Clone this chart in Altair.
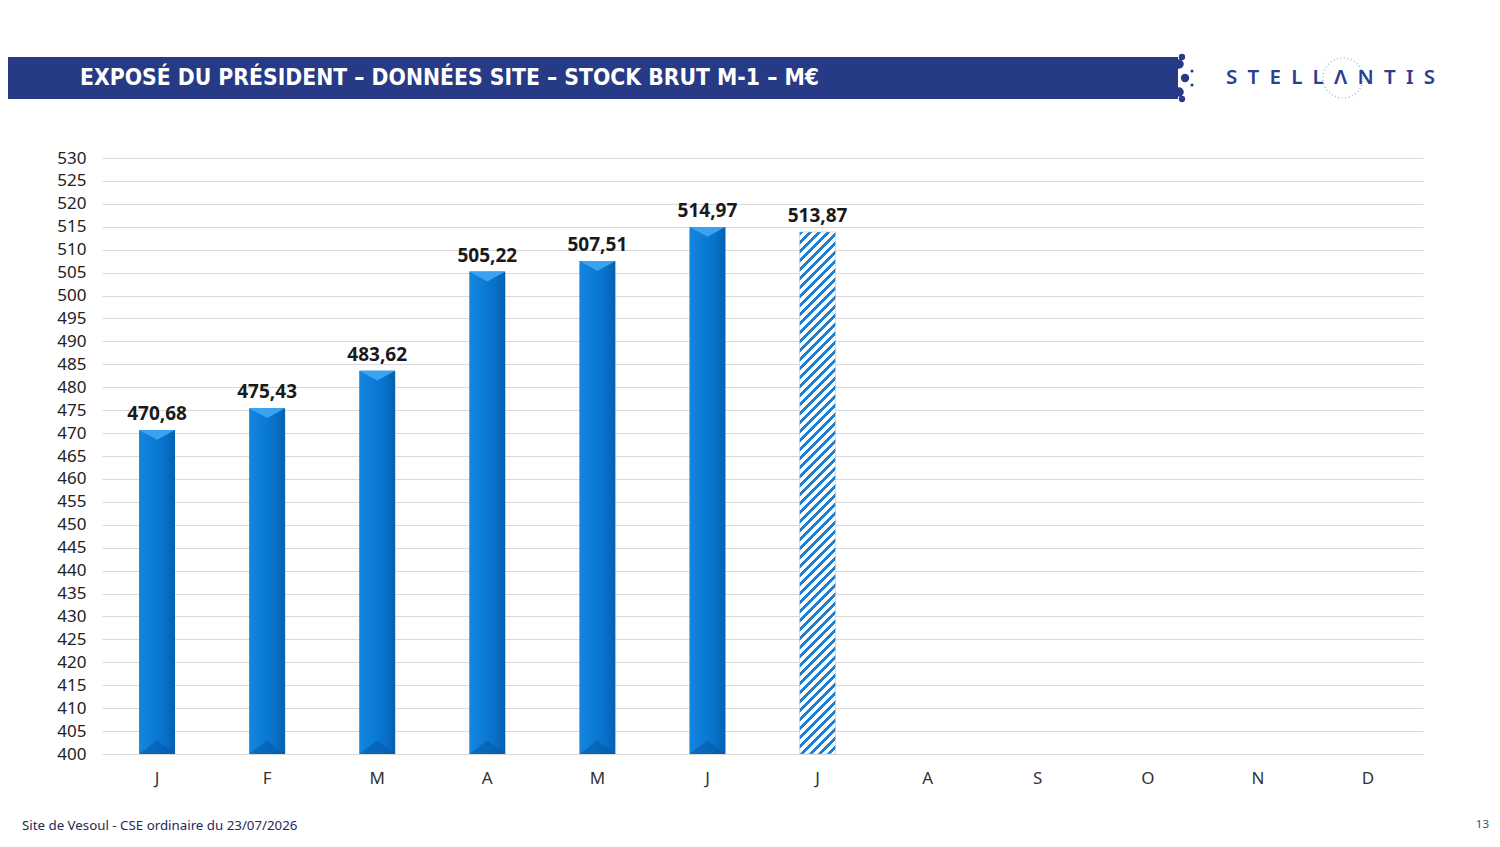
import altair as alt
import pandas as pd

# ---- data ----
month_keys = ["01", "02", "03", "04", "05", "06", "07", "08", "09", "10", "11", "12"]
month_labels = ["J", "F", "M", "A", "M", "J", "J", "A", "S", "O", "N", "D"]
values = [470.68, 475.43, 483.62, 505.22, 507.51, 514.97, 513.87, None, None, None, None, None]
estimated = [False, False, False, False, False, False, True, False, False, False, False, False]
y_ticks = list(range(400, 531, 5))

title_text = "EXPOSÉ DU PRÉSIDENT – DONNÉES SITE – STOCK BRUT M-1 – M€"
footer_text = "Site de Vesoul - CSE ordinaire du 23/07/2026"
page_number = "13"
logo_text = "\u2002".join(list("STELLΛNTIS"))

# ---- layout ----
W, H = 1321, 596
Y_MIN, Y_MAX = 400, 530
BAR_W = 36
NAVY = "#263a85"

rows = []
for k, v, e in zip(month_keys, values, estimated):
    rows.append({
        "key": k,
        "value": v,
        "est": e,
        "label": (f"{v:.2f}".replace(".", ",") if v is not None else None),
    })
df = pd.DataFrame(rows)
df_solid = df[(df["value"].notna()) & (~df["est"])]
df_est = df[df["est"]]
df_lab = df[df["value"].notna()]

label_expr = "[" + ",".join(f"'{m}'" for m in month_labels) + "][toNumber(datum.value)-1]"

x_enc = alt.X(
    "key:N",
    sort=month_keys,
    scale=alt.Scale(domain=month_keys, paddingInner=0.1, paddingOuter=0.05),
    axis=alt.Axis(
        title=None, labelAngle=0, domain=False, ticks=False, labelExpr=label_expr,
        labelFont="Noto Sans", labelFontSize=17, labelColor="#333333", labelPadding=16,
    ),
)
y_scale = alt.Scale(domain=[Y_MIN, Y_MAX], nice=False, zero=False)
y_axis = alt.Axis(
    title=None, values=y_ticks, domain=False, ticks=False, grid=True, labelOverlap=False,
    gridColor="#d9d9d9", gridWidth=1, labelFont="Noto Sans", labelFontSize=17,
    labelColor="#222222", labelPadding=16, labelBound=False,
)
y_enc = alt.Y("value:Q", scale=y_scale, axis=y_axis)

solid_grad = alt.LinearGradient(
    gradient="linear",
    stops=[
        alt.GradientStop(color="#1586de", offset=0),
        alt.GradientStop(color="#0a7ad5", offset=0.45),
        alt.GradientStop(color="#0870c8", offset=0.72),
        alt.GradientStop(color="#0560b0", offset=1),
    ],
    x1=0, x2=1, y1=0, y2=0,
)

bars = alt.Chart(df_solid).mark_bar(size=BAR_W, color=solid_grad).encode(
    x=x_enc, y=y_enc, y2=alt.datum(Y_MIN)
)

# hatched bar (diagonal stripes via a banded gradient)
est_val = float(df_est["value"].iloc[0])
bar_h = (est_val - Y_MIN) / (Y_MAX - Y_MIN) * H
r = BAR_W / bar_h
s = (r + 1) / (1 + r * r)
period_px = 9.0
dt = (period_px / bar_h) / (s * (1 + r * r))
stops = []
t = 0.0
blue_frac = 0.48
while t < 1.0:
    a, b, c = t, min(t + dt * blue_frac, 1.0), min(t + dt, 1.0)
    stops += [
        alt.GradientStop(color="#1b80d8", offset=a),
        alt.GradientStop(color="#1b80d8", offset=b),
        alt.GradientStop(color="#ffffff", offset=b),
        alt.GradientStop(color="#ffffff", offset=c),
    ]
    t += dt
hatch_grad = alt.LinearGradient(gradient="linear", stops=stops, x1=0, y1=0, x2=s * r, y2=s)

hatched = alt.Chart(df_est).mark_bar(size=BAR_W, color=hatch_grad, stroke="#c8c8c8", strokeWidth=0.6).encode(
    x=x_enc, y=y_enc, y2=alt.datum(Y_MIN)
)

top_bevel = alt.Chart(df_solid).mark_point(
    shape="M-1,0L1,0L0,0.55Z", filled=True, opacity=1, size=BAR_W * BAR_W, color="#3aa3f0"
).encode(x=x_enc, y=y_enc)

bottom_bevel = alt.Chart(df_solid).mark_point(
    shape="M-1,0L1,0L0,-0.75Z", filled=True, opacity=0.55, size=BAR_W * BAR_W, color="#0558a6"
).encode(x=x_enc, y=alt.YDatum(Y_MIN, scale=y_scale, axis=y_axis))

labels = alt.Chart(df_lab).mark_text(
    font="Noto Sans", fontWeight="bold", fontSize=19, color="#1a1a1a", baseline="bottom", dy=-6
).encode(x=x_enc, y=y_enc, text="label:N")

one = alt.Data(values=[{"a": 1}])

header = alt.Chart(one).mark_rect(color=NAVY).encode(
    x=alt.value(-110), x2=alt.value(1076), y=alt.value(-101), y2=alt.value(-59)
)
dots = [
    alt.Chart(one).mark_point(shape="circle", filled=True, opacity=1, color=NAVY, size=s_).encode(
        x=alt.value(xv), y=alt.value(yv)
    )
    for xv, yv, s_ in [(1077, -94, 90), (1083, -80, 70), (1077, -66, 90), (1080, -101, 40), (1080, -59, 40),
                      (1090, -87, 10), (1090, -73, 10)]
]
header_text = alt.Chart(one).mark_text(
    text=title_text, font="DejaVu Sans Condensed", fontWeight="bold", fontSize=22.7, color="white",
    align="left", baseline="middle",
).encode(x=alt.value(-22), y=alt.value(-80))

logo = alt.Chart(one).mark_text(
    text=logo_text, font="Noto Sans", fontSize=20.5, fontWeight=600, color="#2a3f8f", align="left",
    baseline="middle",
).encode(x=alt.value(1124), y=alt.value(-80))
logo_ring = alt.Chart(one).mark_point(
    shape="circle", filled=False, size=1600, color="#6fa8dc", strokeDash=[1, 2.5], strokeWidth=1.5
).encode(x=alt.value(1241), y=alt.value(-80))

footer = alt.Chart(one).mark_text(
    text=footer_text, font="Noto Sans", fontSize=13.3, color="#1f2a55", align="left", baseline="middle",
).encode(x=alt.value(-80), y=alt.value(668))
page_no = alt.Chart(one).mark_text(
    text=page_number, font="Noto Sans", fontSize=11.5, color="#3a4a8a", align="right", baseline="middle",
).encode(x=alt.value(1387), y=alt.value(667))

chart = alt.layer(
    bars, bottom_bevel, top_bevel, hatched, labels,
    header, *dots, header_text, logo_ring, logo, footer, page_no,
).properties(
    width=W, height=H,
    autosize=alt.AutoSizeParams(type="none"),
    padding={"left": 94, "top": 150, "right": 69, "bottom": 80},
    background="white",
).configure_view(stroke=None)

chart.save("out.html", embed_options={"renderer": "svg", "actions": False})
